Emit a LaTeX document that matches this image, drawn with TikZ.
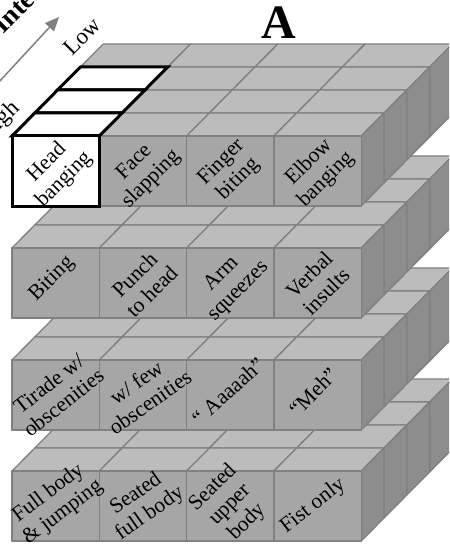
\documentclass[tikz,border=0pt]{standalone}
\usepackage{fontspec}
\setmainfont{Liberation Serif}
\usetikzlibrary{arrows.meta}
\definecolor{FrontGray}{RGB}{166,166,166}
\definecolor{TopGray}{RGB}{188,188,188}
\definecolor{SideGray}{RGB}{141,141,141}
\definecolor{EdgeGray}{RGB}{128,128,128}
\tikzset{
  face/.style    = {draw=EdgeGray, line width=1.3pt, line join=round},
  hilite/.style  = {draw=black, line width=3pt, line join=miter, fill=white},
  lbl/.style     = {align=center, inner sep=0pt, rotate=45,
                    font=\fontsize{21.5}{24}\selectfont},
  intarrow/.style = {-{Triangle[length=14pt,width=12pt]}, EdgeGray, line width=1.5pt}
}
\def\W{87.3}
\def\H{70}
\def\dx{22.8}
\def\dy{23}

\begin{document}
\begin{tikzpicture}[x=1pt,y=-1pt]
\useasboundingbox (0,0) rectangle (449,545);
\clip (0,0) rectangle (449,545);
% four slabs of 4x4 cubes, lowest first
\foreach \T in {471,360,248,136} {
  \foreach \d in {3,2,1,0} {
    \foreach \c in {0,...,3}
      \filldraw[face, fill=TopGray] ({12+\c*\W+\d*\dx},{\T-\d*\dy}) -- ++(\W,0)
        -- ++(\dx,-\dy) -- ++(-\W,0) -- cycle;
    \filldraw[face, fill=SideGray] ({12+4*\W+\d*\dx},{\T-\d*\dy}) -- ++(\dx,-\dy)
      -- ++(0,\H) -- ++(-\dx,\dy) -- cycle;
  }
  \foreach \c in {0,...,3}
    \filldraw[face, fill=FrontGray] ({12+\c*\W},\T) rectangle ++(\W,\H);
}
% highlighted column
\foreach \d in {2,1,0}
  \filldraw[hilite] ({12+\d*\dx},{136-\d*\dy}) -- ++(\W,0) -- ++(\dx,-\dy)
    -- ++(-\W,0) -- cycle;
\filldraw[hilite] (12,136) rectangle ++(\W,\H);

% intensity axis
\coordinate (high) at (-2,83);
\coordinate (low) at (59,17);
\draw[intarrow] (high) -- (low);
\node[lbl, font=\fontsize{23}{25}\selectfont] (lowlbl) at (82.5,36.5) {Low};
\node[lbl, font=\fontsize{23}{25}\selectfont] (highlbl) at (0,122) {High};
\node[lbl, anchor=base west, font=\bfseries\fontsize{27}{29}\selectfont]
  (intlbl) at (3,35) {Intensity};
\node[font=\bfseries\fontsize{48}{48}\selectfont, anchor=base] (title) at (279,39) {A};

% slab 1
\node[lbl] (head)   at (55.6,171) {Head\\banging};
\node[lbl] (face)   at (143,171) {Face\\slapping};
\node[lbl] (finger) at (230,171) {Finger\\biting};
\node[lbl] (elbow)  at (317.5,171) {Elbow\\banging};
% slab 2
\node[lbl] (biting) at (52,279) {Biting};
\node[lbl] (punch)  at (143,283) {Punch\\to head};
\node[lbl] (arm)    at (230,283) {Arm\\squeezes};
\node[lbl] (verbal) at (317.5,283) {Verbal\\insults};
% slab 3
\node[lbl, rotate=-7] (tirade) at (56,393) {Tirade w/\\obscenities};
\node[lbl, rotate=-10] (few)   at (143,392) {w/ few\\obscenities};
\node[lbl, rotate=-3] (aah)    at (228,391) {“ Aaaaah”};
\node[lbl] (meh)    at (313,392) {“Meh”};
% slab 4
\node[lbl, rotate=-8] (full)   at (55.6,503) {Full body\\\& jumping};
\node[lbl, rotate=-10] (seatf) at (143,504) {Seated\\full body};
\node[lbl] (seatu)  at (230,505) {Seated\\upper\\body};
\node[lbl, rotate=-7] (fist)   at (313,506) {Fist only};
\end{tikzpicture}
\end{document}
